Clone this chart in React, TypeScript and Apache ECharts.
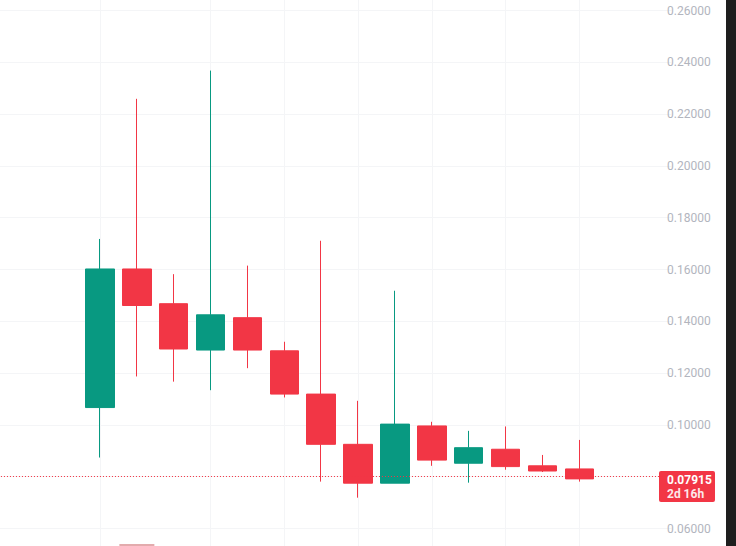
import React, { useEffect, useRef } from 'react';
import * as echarts from 'echarts';

// Candles (left to right)
const categories = ['C1', 'C2', 'C3', 'C4', 'C5', 'C6', 'C7', 'C8', 'C9', 'C10', 'C11', 'C12', 'C13', 'C14'];
const opens = [0.1067, 0.1602, 0.1468, 0.1289, 0.1414, 0.1286, 0.1119, 0.0925, 0.0775, 0.0996, 0.0852, 0.0906, 0.0842, 0.0830];
const closes = [0.1602, 0.1461, 0.1293, 0.1425, 0.1289, 0.1119, 0.0925, 0.0775, 0.1003, 0.0864, 0.0912, 0.0839, 0.0822, 0.07915];
const lows = [0.0874, 0.1187, 0.1167, 0.1134, 0.1219, 0.1106, 0.0781, 0.0719, 0.0775, 0.0842, 0.0777, 0.0827, 0.0818, 0.0781];
const highs = [0.1718, 0.2259, 0.1582, 0.2368, 0.1615, 0.1321, 0.1711, 0.1093, 0.1518, 0.1012, 0.0977, 0.0994, 0.0884, 0.0942];
// Only the volume bar that peeks in at the bottom is visible (arbitrary units)
const volumes: (number | null)[] = [null, 5.84, null, null, null, null, null, null, null, null, null, null, null, null];

const lastPrice = 0.07915;
const lastPriceText = '0.07915';
const countdownText = '2d 16h';
const timeGridCandles = ['C1', 'C4', 'C6', 'C8', 'C10', 'C12', 'C14'];
// ticks outside the visible area or hidden behind the price tag
const hiddenTickLabels = ['0.04000', '0.08000', '0.28000'];

const leadPads = 3;
const trailPads = 2;

const GREEN = '#089981';
const RED = '#f23645';

export default function App() {
  const ref = useRef<HTMLDivElement>(null);

  useEffect(() => {
    document.body.style.margin = '0';
    if (!ref.current) return;
    const chart = echarts.init(ref.current, undefined, { renderer: 'svg' });

    const padL = Array.from({ length: leadPads }, (_, i) => `pre${i}`);
    const padR = Array.from({ length: trailPads }, (_, i) => `post${i}`);
    const xCats = [...padL, ...categories, ...padR];
    const blank = ['-', '-', '-', '-'];
    const candleData = [
      ...padL.map(() => blank),
      ...categories.map((_, i) => [opens[i], closes[i], lows[i], highs[i]]),
      ...padR.map(() => blank),
    ];
    const volData = [
      ...padL.map(() => '-'),
      ...volumes.map((v) => (v == null ? '-' : v)),
      ...padR.map(() => '-'),
    ];

    const band = 36.87;
    const pxPerUnit = 2590;
    const gridTop = 10.5 - 0.02 * pxPerUnit;
    const gridHeight = 0.24 * pxPerUnit;
    const gridLeft = 100 - band / 2 - leadPads * band;
    const gridWidth = xCats.length * band;

    chart.setOption({
      animation: false,
      backgroundColor: '#ffffff',
      grid: {
        left: gridLeft,
        top: gridTop,
        width: gridWidth,
        height: gridHeight,
        containLabel: false,
        outerBoundsMode: 'none',
      },
      xAxis: {
        type: 'category',
        data: xCats,
        boundaryGap: true,
        axisLine: { show: false },
        axisTick: { show: false },
        axisLabel: { show: false },
        splitLine: { show: false },
      },
      yAxis: [
        {
          type: 'value',
          position: 'right',
          min: 0.04,
          max: 0.28,
          interval: 0.02,
          offset: 667 - (gridLeft + gridWidth),
          axisLine: { show: false },
          axisTick: { show: false },
          axisLabel: {
            margin: 0,
            align: 'left',
            color: '#b2b5be',
            fontSize: 12,
            fontFamily: 'Roboto, "Noto Sans", sans-serif',
            formatter: (v: number) => {
              const s = v.toFixed(5);
              return hiddenTickLabels.includes(s) ? '' : s;
            },
          },
          splitLine: { show: true, lineStyle: { color: '#f4f5f7', width: 1 } },
        },
        {
          type: 'value',
          min: 0,
          max: 100,
          show: false,
          splitLine: { show: false },
        },
      ],
      series: [
        {
          type: 'bar',
          yAxisIndex: 1,
          data: volData,
          barWidth: 35,
          itemStyle: { color: '#e3abad' },
          silent: true,
          z: 1,
          markLine: {
            silent: true,
            symbol: 'none',
            z: 1,
            label: { show: false },
            lineStyle: { color: '#f4f5f7', type: 'solid', width: 1 },
            data: timeGridCandles.map((c) => ({ xAxis: leadPads + categories.indexOf(c) })),
          },
        },
        {
          type: 'candlestick',
          data: candleData,
          barWidth: 29,
          z: 3,
          itemStyle: {
            color: GREEN,
            color0: RED,
            borderColor: GREEN,
            borderColor0: RED,
            borderWidth: 1,
          },
          markLine: {
            silent: true,
            symbol: 'none',
            label: { show: false },
            lineStyle: { color: RED, type: [1, 2], width: 1 },
            data: [{ yAxis: lastPrice }],
          },
        },
      ],
    });

    const py = chart.convertToPixel({ yAxisIndex: 0 }, lastPrice) as number;
    chart.setOption({
      graphic: [
        {
          type: 'rect',
          shape: { x: 726, y: 0, width: 10, height: 546 },
          style: { fill: '#1e1e1e' },
          z: 100,
        },
        {
          type: 'rect',
          shape: { x: 659, y: py - 8, width: 56, height: 31, r: 2 },
          style: { fill: RED },
          z: 100,
        },
        {
          type: 'text',
          x: 667,
          y: py + 1.5,
          z: 101,
          style: {
            text: lastPriceText,
            fill: '#ffffff',
            fontSize: 12,
            fontWeight: 'bold',
            fontFamily: 'Roboto, "Noto Sans", sans-serif',
            align: 'left',
            verticalAlign: 'middle',
          },
        },
        {
          type: 'text',
          x: 667,
          y: py + 15.5,
          z: 101,
          style: {
            text: countdownText,
            fill: '#fde8ea',
            fontSize: 12,
            fontWeight: 'bold',
            fontFamily: 'Roboto, "Noto Sans", sans-serif',
            align: 'left',
            verticalAlign: 'middle',
          },
        },
      ],
    });

    return () => chart.dispose();
  }, []);

  return <div ref={ref} style={{ width: 736, height: 546 }} />;
}
